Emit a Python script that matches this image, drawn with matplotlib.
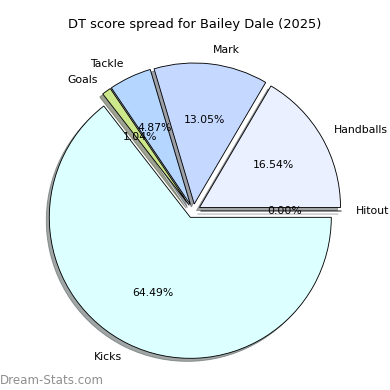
import matplotlib
matplotlib.use("Agg")
import matplotlib.pyplot as plt

# DT score spread data (percent shares)
labels = ["Hitout", "Handballs", "Mark", "Tackle", "Goals", "Kicks"]
values = [0.0, 16.543, 13.053, 4.873, 1.043, 64.488]
colors = ["#f0f0ff", "#eaf0ff", "#c5d8ff", "#b5d6ff", "#cce88a", "#dcffff"]
explode = [0.05, 0.05, 0.05, 0.05, 0.05, 0.05]
title = "DT score spread for Bailey Dale (2025)"

fig = plt.figure(figsize=(5, 5), dpi=78)
ax = fig.add_axes([0, 0, 1, 1])

ax.pie(values, labels=labels, colors=colors, explode=explode,
       autopct="%1.2f%%", shadow=True, startangle=0,
       wedgeprops={"edgecolor": "black", "linewidth": 0.8})

# place the pie the way it sits in the picture (centre ~ (193, 211) px, r ~ 141 px)
r = 141.0
cx, cy = 193.4, 390 - 211
ax.set_xlim(-cx / r, (390 - cx) / r)
ax.set_ylim(-cy / r, (390 - cy) / r)
ax.set_aspect("equal")
ax.axis("off")

fig.text(0.5, 0.936, title, ha="center", va="center", fontsize=12)
fig.text(0.0, 0.025, "Dream-Stats.com", ha="left", va="center",
         fontsize=11.0, color="#8f8f8f")

fig.savefig("out.png", dpi=78)
